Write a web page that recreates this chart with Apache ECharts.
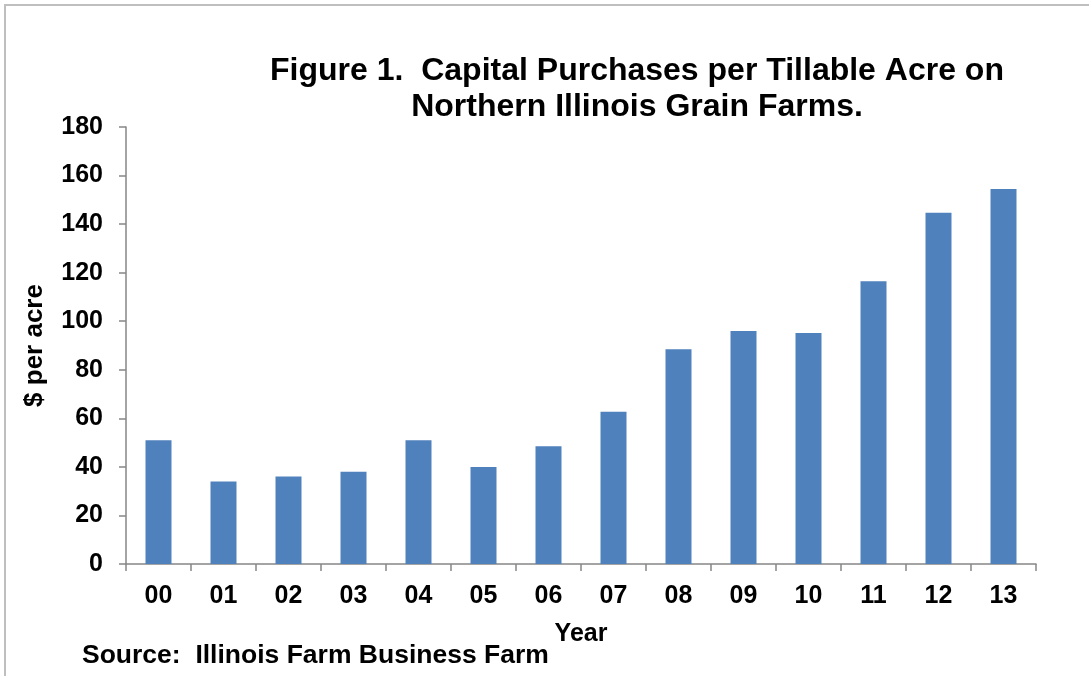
<!DOCTYPE html>
<html>
<head>
<meta charset="utf-8">
<script src="https://cdn.jsdelivr.net/npm/echarts@6/dist/echarts.min.js"></script>
<style>html,body{margin:0;padding:0;background:#fff;}#c{width:1089px;height:676px;}</style>
</head>
<body>
<div id="c"></div>
<script>
const years = ['00','01','02','03','04','05','06','07','08','09','10','11','12','13'];
const values = [51, 34, 36, 38, 51, 40, 48.5, 62.7, 88.5, 96, 95.1, 116.5, 144.7, 154.5];
const yTicks = {min: 0, max: 180, interval: 20};
const titleLines = ['Figure 1.  Capital Purchases per Tillable Acre on', 'Northern Illinois Grain Farms.'];
const yName = '$ per acre';
const xName = 'Year';
const sourceText = 'Source:  Illinois Farm Business Farm';

const font = '"Liberation Sans", Arial, sans-serif';
const chart = echarts.init(document.getElementById('c'), null, {renderer: 'canvas'});
chart.setOption({
  animation: false,
  backgroundColor: '#ffffff',
  grid: {left: 126, right: 53, top: 127, bottom: 112, containLabel: false},
  xAxis: {
    type: 'category',
    data: years,
    name: xName,
    nameLocation: 'middle',
    nameGap: 58,
    nameTextStyle: {fontFamily: font, fontWeight: 'bold', fontSize: 25, color: '#000'},
    axisLine: {lineStyle: {color: '#868686', width: 1.5}},
    axisTick: {show: true, length: 7, lineStyle: {color: '#868686', width: 1.5}},
    axisLabel: {fontFamily: font, fontWeight: 'bold', fontSize: 25, color: '#000', margin: 20},
    splitLine: {show: false}
  },
  yAxis: {
    type: 'value',
    min: yTicks.min, max: yTicks.max, interval: yTicks.interval,
    name: yName,
    nameLocation: 'middle',
    nameGap: 78,
    nameRotate: 90,
    nameTextStyle: {fontFamily: font, fontWeight: 'bold', fontSize: 26, color: '#000'},
    axisLine: {show: true, lineStyle: {color: '#868686', width: 1.5}},
    axisTick: {show: true, length: 7, lineStyle: {color: '#868686', width: 1.5}},
    axisLabel: {fontFamily: font, fontWeight: 'bold', fontSize: 25, color: '#000', margin: 23},
    splitLine: {show: false}
  },
  series: [{
    type: 'bar',
    data: values,
    barWidth: '40%',
    itemStyle: {color: '#4F81BD'}
  }],
  graphic: [
    {type: 'rect', shape: {x: 5, y: 5, width: 1100, height: 700}, style: {fill: 'none', stroke: '#BFBFBF', lineWidth: 2}, silent: true},
    {type: 'text', x: 637, y: 53, style: {text: titleLines.join('\n'), fontFamily: font, fontWeight: 'bold', fontSize: 32, lineHeight: 36, textAlign: 'center', fill: '#000'}},
    {type: 'text', x: 82, y: 656, style: {text: sourceText, fontFamily: font, fontWeight: 'bold', fontSize: 26.5, textVerticalAlign: 'middle', fill: '#000'}}
  ]
});
</script>
</body>
</html>
